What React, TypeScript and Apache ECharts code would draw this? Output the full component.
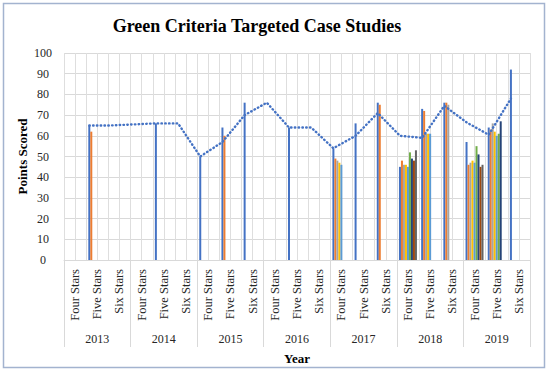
import React, { useEffect, useRef } from "react";
import * as echarts from "echarts";

const years = ["2013", "2014", "2015", "2016", "2017", "2018", "2019"];
const stars = ["Four Stars", "Five Stars", "Six Stars"];
const categories = years.flatMap((y) => stars.map((s) => s));

const caseA = [null, 65, null, null, 66, null, 50, 64, 76, null, 64, null, 54, 66, 76, 45, 73, 76, 57, 64, 92];
const caseB = [null, 62, null, null, null, null, null, 60, null, null, null, null, 49, null, 75, 48, 72, 76, 46, 63, null];
const caseC = [null, null, null, null, null, null, null, null, null, null, null, null, 48, null, null, 46, 61, 75, 47, 66, null];
const caseD = [null, null, null, null, null, null, null, null, null, null, null, null, 47, null, null, 46, 61, null, 48, 62, null];
const caseE = [null, null, null, null, null, null, null, null, null, null, null, null, 46, null, null, 45, 61, null, 47, 60, null];
const caseF = [null, null, null, null, null, null, null, null, null, null, null, null, null, null, null, 52, null, null, 55, 61, null];
const caseG = [null, null, null, null, null, null, null, null, null, null, null, null, null, null, null, 49, null, null, 51, 67, null];
const caseH = [null, null, null, null, null, null, null, null, null, null, null, null, null, null, null, 48, null, null, 45, null, null];
const caseI = [null, null, null, null, null, null, null, null, null, null, null, null, null, null, null, 53, null, null, 46, null, null];
const trend = [null, 65, 65, 65.5, 66, 66, 50, 57, 70, 76, 64, 64, 54, 60, 71, 60, 59, 74.5, 66.5, 60.5, 78];

const seriesNames = ["Case 1", "Case 2", "Case 3", "Case 4", "Case 5", "Case 6", "Case 7", "Case 8", "Case 9"];
const seriesData = [caseA, caseB, caseC, caseD, caseE, caseF, caseG, caseH, caseI];
const colors = ["#4472C4", "#ED7D31", "#A5A5A5", "#FFC000", "#5B9BD5", "#70AD47", "#264478", "#9E480E", "#636363"];
const yTicks = { min: 0, max: 100, interval: 10 };

const FONT = "'Liberation Serif', 'Times New Roman', serif";

export default function App() {
  const ref = useRef<HTMLDivElement>(null);
  useEffect(() => {
    document.body.style.margin = "0";
    const chart = echarts.init(ref.current!, null, { renderer: "svg" });
    const gridL = 64, gridT = 53, gridW = 466, gridH = 207;
    const option: any = {
      animation: false,
      textStyle: { fontFamily: FONT },
      graphic: [
        {
          type: "rect",
          shape: { x: 3.5, y: 3.5, width: 541, height: 364 },
          style: { fill: "none", stroke: "#A3B3CF", lineWidth: 1.5 },
          silent: true,
        },
        {
          type: "text",
          x: 257,
          y: 26,
          style: {
            text: "Green Criteria Targeted Case Studies",
            font: `bold 18px ${FONT}`,
            fill: "#000",
            align: "center",
            verticalAlign: "middle",
          },
        },
      ],
      grid: [
        { left: gridL, top: gridT, width: gridW, height: gridH },
        { left: gridL - 8, top: gridT, width: gridW, height: gridH },
      ],
      xAxis: [
        {
          type: "category",
          gridIndex: 0,
          data: categories,
          boundaryGap: true,
          axisLine: { lineStyle: { color: "#D9D9D9" } },
          axisTick: { show: false },
          axisLabel: { rotate: 90, fontSize: 12.5, margin: 9, color: "#262626", fontFamily: FONT, interval: 0 },
          splitLine: { show: false },
        },
        {
          type: "category",
          gridIndex: 0,
          position: "bottom",
          data: years,
          boundaryGap: true,
          axisLine: { show: false },
          axisTick: { show: true, length: 87, lineStyle: { color: "#D9D9D9" } },
          axisLabel: { margin: 73, fontSize: 12, color: "#262626", fontFamily: FONT, interval: 0 },
          splitLine: { show: false },
          name: "Year",
          nameLocation: "middle",
          nameGap: 92,
          nameMoveOverlap: false,
          nameTextStyle: { fontWeight: "bold", fontSize: 13, color: "#000", fontFamily: FONT },
        },
        {
          type: "value",
          gridIndex: 0,
          position: "top",
          min: 0,
          max: 42,
          interval: 1,
          axisLabel: { show: false },
          axisLine: { show: false },
          axisTick: { show: false },
          splitLine: { show: true, lineStyle: { color: "#DEDEDE" } },
        },
        { type: "category", gridIndex: 1, data: categories, show: false, boundaryGap: true },
      ],
      yAxis: [
        {
          type: "value",
          gridIndex: 0,
          ...yTicks,
          axisLine: { show: false },
          axisTick: { show: false },
          splitLine: { lineStyle: { color: "#D9D9D9" } },
          axisLabel: { align: "center", margin: 21, fontSize: 12, color: "#262626", fontFamily: FONT },
          name: "Points Scored",
          nameLocation: "middle",
          nameGap: 35,
          nameMoveOverlap: false,
          nameRotate: 90,
          nameTextStyle: { fontWeight: "bold", fontSize: 13, color: "#000", fontFamily: FONT },
        },
        { type: "value", gridIndex: 1, ...yTicks, show: false },
      ],
      series: [
        ...seriesData.map((d, i) => ({
          name: seriesNames[i],
          type: "bar",
          xAxisIndex: 0,
          yAxisIndex: 0,
          data: d,
          barGap: "0%",
          barCategoryGap: "19%",
          itemStyle: { color: colors[i] },
        })),
        {
          name: "Trend",
          type: "line",
          xAxisIndex: 3,
          yAxisIndex: 1,
          data: trend,
          connectNulls: true,
          symbol: "none",
          lineStyle: { color: "#4472C4", width: 2.4, type: [0.5, 3.3], cap: "round" },
        },
      ],
    };
    chart.setOption(option);
    return () => chart.dispose();
  }, []);
  return <div ref={ref} style={{ width: 550, height: 374 }} />;
}
